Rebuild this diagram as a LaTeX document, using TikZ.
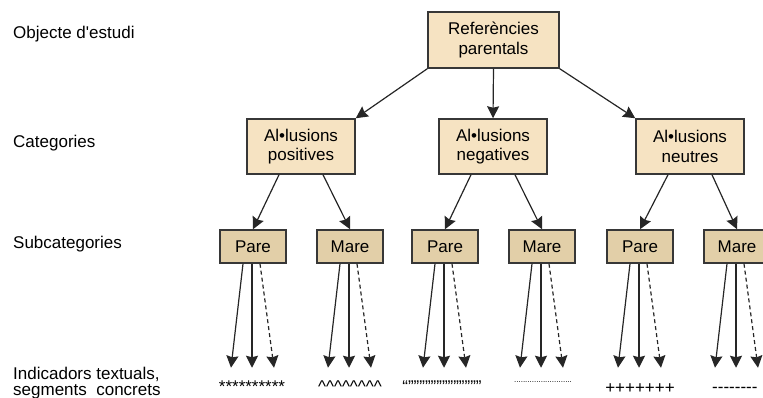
\documentclass[tikz,border=0pt]{standalone}
\usepackage{fontspec}
\setmainfont{Liberation Sans}
\usepackage{xcolor}
\usepackage{tikz}
\usetikzlibrary{shapes,arrows.meta,positioning,calc}
\definecolor{boxtan}{RGB}{246,227,194}
\definecolor{subtan}{RGB}{226,207,168}
\definecolor{boxline}{RGB}{55,55,55}

\begin{document}
\begin{tikzpicture}[x=1pt,y=-1pt,
    font=\fontsize{17}{19.5}\selectfont,
    topbox/.style={draw=boxline,line width=1.5pt,fill=boxtan,minimum width=131pt,minimum height=56pt,align=center,inner sep=0pt},
    catbox/.style={topbox,minimum width=108pt,minimum height=55pt},
    subbox/.style={draw=boxline,line width=1.5pt,fill=subtan,minimum width=66pt,minimum height=33pt,inner sep=0pt},
    arr/.style={-{Stealth[length=12pt,width=12pt,inset=1.5pt]},line width=1.2pt,draw=black!85},
    lvl/.style={anchor=base west,inner sep=0pt}]
    \useasboundingbox (0,0) rectangle (763,398);
    \clip (0,0) rectangle (763,398);
    % levels on the left
    \node[lvl] (lobj) at (13,39) {Objecte d\textquotesingle estudi};
    \node[lvl] (lcat) at (13,148) {Categories};
    \node[lvl] (lsub) at (13,248) {Subcategories};
    \node[anchor=west,align=left,inner sep=0pt,font=\fontsize{17}{16.5}\selectfont] (lind) at (13,383) {Indicadors textuals,\\segments~ concrets};
    % boxes
    \node[topbox] (ref) at (493.5,40) {Referències\\parentals};
    \node[catbox] (pos) at (301,146.5) {Al•lusions\\positives};
    \node[catbox] (neg) at (493,146.5) {Al•lusions\\negatives};
    \node[catbox] (neu) at (690,146.5) {Al•lusions\\neutres};
    \foreach \n/\x/\t in {pp/253/Pare,pm/350/Mare,np/445/Pare,nm/542/Mare,up/640/Pare,um/737/Mare}
    {
        \node[subbox] (\n) at (\x,246.5) {\t};
        \coordinate (\n-a) at ($(\n.south)+(-22,104)$);
        \coordinate (\n-b) at ($(\n.south)+(-1,104)$);
        \coordinate (\n-c) at ($(\n.south)+(21,104)$);
        \draw[arr] ($(\n.south)+(-10,0)$) -- (\n-a);
        \draw[arr] ($(\n.south)+(-1,0)$) -- (\n-b);
        \draw[arr,dash pattern=on 4pt off 3pt] ($(\n.south)+(7,0)$) -- (\n-c);
    }
    % connectors
    \draw[arr] (ref.south west) -- (pos.north east);
    \draw[arr] (ref.south) -- (neg.north);
    \draw[arr] (ref.south east) -- (neu.north west);
    \draw[arr] ($(pos.south)+(-22,0)$) -- (pp.north);
    \draw[arr] ($(pos.south)+(22,0)$) -- (pm.north);
    \draw[arr] ($(neg.south)+(-22,0)$) -- (np.north);
    \draw[arr] ($(neg.south)+(22,0)$) -- (nm.north);
    \draw[arr] ($(neu.south)+(-22,0)$) -- (up.north);
    \draw[arr] ($(neu.south)+(22,0)$) -- (um.north);
    % textual indicators
    \node[anchor=base,inner sep=0pt] (ipp) at (252,392) {**********};
    \node[anchor=base,inner sep=0pt] (ipm) at (350,392) {\textasciicircum\textasciicircum\textasciicircum\textasciicircum\textasciicircum\textasciicircum\textasciicircum\textasciicircum};
    \node[anchor=base,inner sep=0pt] (inp) at (442,392) {“”””””””””””””};
    \node[anchor=base,inner sep=0pt,font=\fontsize{8}{8}\selectfont] (inm) at (543,382) {..........................};
    \node[anchor=base,inner sep=0pt] (iup) at (640,393) {+++++++};
    \node[anchor=base west,inner sep=0pt] (ium) at (712,392) {-{}-{}-{}-{}-{}-{}-{}-};
\end{tikzpicture}
\end{document}
